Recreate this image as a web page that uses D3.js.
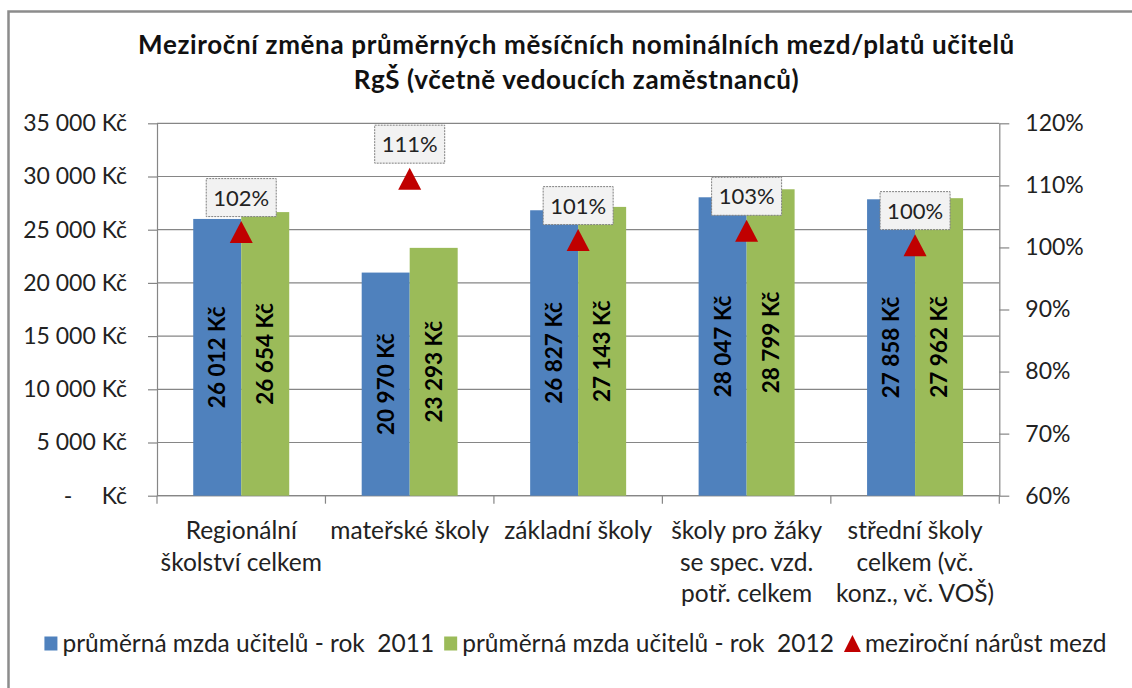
<!DOCTYPE html>
<html>
<head>
<meta charset="utf-8">
<script src="https://cdn.jsdelivr.net/npm/d3@7"></script>
<style>
    body { margin: 0; background: #fff; }
    svg { display: block; font-family: Lato, "DejaVu Sans", sans-serif; }
</style>
</head>
<body>
<svg id="chart" width="1132" height="688"></svg>
<script>
// data
const categories = [
    "Regionální\nškolství celkem",
    "mateřské školy",
    "základní školy",
    "školy pro žáky\nse spec. vzd.\npotř. celkem",
    "střední školy\ncelkem (vč.\nkonz., vč. VOŠ)"
];
const wages2011 = [26012, 20970, 26827, 28047, 27858];
const wages2012 = [26654, 23293, 27143, 28799, 27962];
const growth = [1.0247, 1.1108, 1.0118, 1.0268, 1.0037];
const seriesNames = ["průměrná mzda učitelů - rok  2011", "průměrná mzda učitelů - rok  2012", "meziroční nárůst mezd"];
const titleLines = ["Meziroční změna průměrných měsíčních nominálních mezd/platů učitelů", "RgŠ (včetně vedoucích zaměstnanců)"];
const wageTicks = [0, 5000, 10000, 15000, 20000, 25000, 30000, 35000];
const pctTicks = [0.6, 0.7, 0.8, 0.9, 1.0, 1.1, 1.2];

const colors = { blue: "#4f81bd", green: "#9bbb59", red: "#c00000", grid: "#868686", text: "#222" };

const svg = d3.select("#chart");
const plot = { left: 157, right: 999.3, top: 123.3, bottom: 495.7 };

// frame
svg.append("rect")
    .attr("x", 8.5).attr("y", 11.5)
    .attr("width", 1140).attr("height", 700)
    .attr("fill", "#fff")
    .attr("stroke", "#8c8c8c").attr("stroke-width", 2.5);

// title
svg.append("g").selectAll("text")
    .data(titleLines)
    .join("text")
    .attr("x", 576.5)
    .attr("y", (d, i) => 54 + i * 35)
    .attr("text-anchor", "middle")
    .attr("font-weight", "bold")
    .attr("font-size", 26)
    .attr("letter-spacing", 0.65)
    .attr("fill", "#111")
    .text(d => d);

// scales
const x0 = d3.scaleBand().domain(d3.range(categories.length)).range([plot.left, plot.right]);
const x1 = d3.scaleBand().domain([0, 1]).range([0, x0.bandwidth()]).paddingOuter(0.755);
const yL = d3.scaleLinear().domain([0, 35000]).range([plot.bottom, plot.top]);
const yR = d3.scaleLinear().domain([0.6, 1.2]).range([plot.bottom, plot.top]);

const nbsp = "\u00a0";
const czk = d3.formatLocale({ decimal: ",", thousands: nbsp, grouping: [3], currency: ["", " Kč"] });
const wageFmt = v => v === 0 ? "-" + nbsp.repeat(5) + "Kč" : czk.format(",")(v) + nbsp + "Kč";
const pctFmt = d3.format(".0%");

// gridlines
svg.append("g").selectAll("line")
    .data(wageTicks)
    .join("line")
    .attr("x1", plot.left).attr("x2", plot.right)
    .attr("y1", d => yL(d)).attr("y2", d => yL(d))
    .attr("stroke", colors.grid).attr("stroke-width", 1.2);

function styleAxis(g) {
    g.select(".domain").attr("stroke", colors.grid).attr("stroke-width", 1.2);
    g.selectAll(".tick line").attr("stroke", colors.grid).attr("stroke-width", 1.2);
    g.selectAll(".tick text").attr("fill", colors.text).attr("font-size", 23);
    g.attr("font-family", null);
}

svg.append("g")
    .attr("transform", `translate(${plot.left},0)`)
    .call(d3.axisLeft(yL).tickValues(wageTicks).tickSize(9).tickSizeOuter(0).tickPadding(21).tickFormat(wageFmt))
    .call(styleAxis);

svg.append("g")
    .attr("transform", `translate(${plot.right},0)`)
    .call(d3.axisRight(yR).tickValues(pctTicks).tickSize(10).tickSizeOuter(0).tickPadding(16).tickFormat(pctFmt))
    .call(styleAxis);

// category axis: baseline + boundary ticks
const catAxis = svg.append("g");
catAxis.append("line")
    .attr("x1", plot.left).attr("x2", plot.right)
    .attr("y1", plot.bottom).attr("y2", plot.bottom)
    .attr("stroke", colors.grid).attr("stroke-width", 1.2);
catAxis.selectAll("line.tick")
    .data(d3.range(categories.length + 1))
    .join("line")
    .attr("class", "tick")
    .attr("x1", i => i < categories.length ? x0(i) : plot.right)
    .attr("x2", i => i < categories.length ? x0(i) : plot.right)
    .attr("y1", plot.bottom).attr("y2", plot.bottom + 8)
    .attr("stroke", colors.grid).attr("stroke-width", 1.2);
catAxis.selectAll("text")
    .data(categories)
    .join("text")
    .attr("text-anchor", "middle")
    .attr("font-size", 24.5)
    .attr("fill", colors.text)
    .each(function(d, i) {
        d3.select(this).selectAll("tspan")
            .data(d.split("\n"))
            .join("tspan")
            .attr("x", x0(i) + x0.bandwidth() / 2)
            .attr("y", (l, j) => 539 + j * 31.5)
            .text(l => l);
    });

// bars
const barSeries = [
    { values: wages2011, color: colors.blue },
    { values: wages2012, color: colors.green }
];
const bars = svg.append("g");
barSeries.forEach((s, si) => {
    const g = bars.append("g");
    g.selectAll("rect")
        .data(s.values)
        .join("rect")
        .attr("x", (d, i) => x0(i) + x1(si))
        .attr("width", x1.bandwidth())
        .attr("y", d => yL(d))
        .attr("height", d => yL(0) - yL(d))
        .attr("fill", s.color);
    g.selectAll("text")
        .data(s.values)
        .join("text")
        .attr("transform", (d, i) => `translate(${x0(i) + x1(si) + x1.bandwidth() / 2},${(yL(d) + yL(0)) / 2}) rotate(-90)`)
        .attr("text-anchor", "middle")
        .attr("dy", "0.36em")
        .attr("font-size", 22.5)
        .attr("font-weight", "bold")
        .attr("fill", "#000")
        .text(wageFmt);
});

// growth markers + labels
const triangle = (w, h) => `M0,${-h / 2}L${w / 2},${h / 2}L${-w / 2},${h / 2}Z`;
const cx = i => x0(i) + x0.bandwidth() / 2;
const markers = svg.append("g");
markers.selectAll("path")
    .data(growth)
    .join("path")
    .attr("transform", (d, i) => `translate(${cx(i)},${yR(d)})`)
    .attr("d", triangle(23, 22))
    .attr("fill", colors.red);

const labels = markers.selectAll("g.lbl")
    .data(growth)
    .join("g")
    .attr("class", "lbl")
    .attr("transform", (d, i) => `translate(${cx(i)},${yR(d) - 15.5 - 19})`);
labels.append("rect")
    .attr("x", -35).attr("y", -19)
    .attr("width", 70).attr("height", 38)
    .attr("fill", "#f2f2f2")
    .attr("stroke", "#7f7f7f").attr("stroke-width", 1)
    .attr("stroke-dasharray", "2,1");
labels.append("text")
    .attr("text-anchor", "middle")
    .attr("dy", "0.36em")
    .attr("font-size", 22)
    .attr("fill", colors.text)
    .text(pctFmt);

// legend
const legend = svg.append("g").attr("transform", "translate(0,643.5)");
const legendMarks = [
    sel => sel.append("rect").attr("x", 0).attr("y", -7).attr("width", 13).attr("height", 14).attr("fill", colors.blue),
    sel => sel.append("rect").attr("x", 0).attr("y", -7).attr("width", 13).attr("height", 14).attr("fill", colors.green),
    sel => sel.append("path").attr("transform", "translate(8.5,0)").attr("d", triangle(17, 17)).attr("fill", colors.red)
];
let lx = 0;
seriesNames.forEach((name, i) => {
    const item = legend.append("g").attr("transform", `translate(${lx},0)`);
    legendMarks[i](item);
    const t = item.append("text")
        .attr("x", i === 2 ? 21 : 18)
        .attr("dy", "0.36em")
        .attr("font-size", 24.5)
        .attr("fill", colors.text)
        .style("white-space", "pre")
        .text(name);
    lx += (i === 2 ? 21 : 18) + t.node().getComputedTextLength() + 10;
});
legend.attr("transform", `translate(${575.5 - (lx - 10) / 2},643.5)`);
</script>
</body>
</html>
